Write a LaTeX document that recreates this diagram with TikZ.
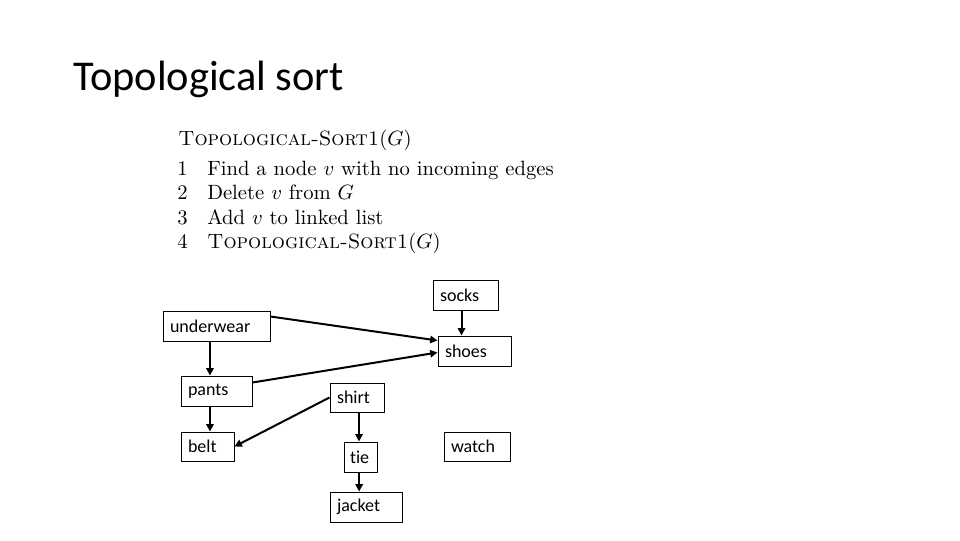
\documentclass[tikz,border=0pt]{standalone}
\usepackage{graphicx}
\usepackage{fontspec}
\newfontfamily\carlito[Ligatures=NoCommon]{Carlito}
\usetikzlibrary{arrows.meta,calc}
\newcommand{\algtext}[1]{\scalebox{1.55}{\fontsize{10}{12}\selectfont #1}}
\begin{document}
\begin{tikzpicture}[x=0.75pt,y=-0.75pt,
  box/.style={draw=black,line width=0.75pt,inner xsep=5.25pt,inner ysep=0pt,align=left,
    font=\carlito\fontsize{13.5}{15}\selectfont,minimum height=22.5pt},
  arr/.style={line width=1.5pt,-{Triangle[width=5.5pt,length=5.5pt]}},
  alg/.style={anchor=base west,inner sep=0pt}]
\useasboundingbox (0,0) rectangle (960,540);
\fill[white] (0,0) rectangle (960,540);
% title
\node[anchor=base west,inner sep=0pt,font=\carlito\fontsize{31.8}{36}\selectfont] (title) at (73,90) {Topological sort};
% algorithm
\node[alg] (a0) at (178,145) {\algtext{\textsc{Topological-Sort1}$(G)$}};
\node[alg] (n1) at (177,175) {\algtext{1}};
\node[alg] (l1) at (207,175) {\algtext{Find a node $v$ with no incoming edges}};
\node[alg] (n2) at (177,199.5) {\algtext{2}};
\node[alg] (l2) at (207,199.5) {\algtext{Delete $v$ from $G$}};
\node[alg] (n3) at (177,224) {\algtext{3}};
\node[alg] (l3) at (207,224) {\algtext{Add $v$ to linked list}};
\node[alg] (n4) at (177,248.5) {\algtext{4}};
\node[alg] (l4) at (207,248.5) {\algtext{\textsc{Topological-Sort1}$(G)$}};
% boxes
\node[box,text width=38.25pt] (socks) at (465.5,295) {socks};
\node[box,text width=69.75pt] (underwear) at (216.5,326) {underwear};
\node[box,text width=44.25pt] (shoes) at (474.5,351) {shoes};
\node[box,text width=42.75pt] (pants) at (216.5,391) {pants};
\node[box,text width=30pt,minimum height=21.75pt] (shirt) at (357,397.5) {shirt};
\node[box,text width=29.25pt,minimum height=21.75pt] (belt) at (207.5,446.5) {belt};
\node[box,text width=15.75pt,inner xsep=4.5pt] (tie) at (360.5,457) {tie};
\node[box,text width=43.5pt] (jacket) at (366,507) {jacket};
\node[box,text width=39pt,minimum height=21.75pt] (watch) at (477,446.5) {watch};
% arrows
\draw[arr] ($(underwear.north east)+(0,6)$) -- ($(shoes.north west)+(0,5)$);
\draw[arr] ($(pants.north east)+(0,7)$) -- ($(shoes.north west)+(0,17)$);
\draw[arr] ([xshift=-3pt]socks.south) -- ([xshift=-3pt]socks.south |- shoes.north);
\draw[arr] ([xshift=-4.9pt]underwear.south) -- ([xshift=-4.9pt]underwear.south |- pants.north);
\draw[arr] ([xshift=-4.9pt]pants.south) -- ([xshift=-4.9pt]pants.south |- belt.north);
\draw[arr] (shirt.west) -- (belt.east);
\draw[arr] ([xshift=1.5pt]shirt.south) -- ([xshift=1.5pt]shirt.south |- tie.north);
\draw[arr] ([xshift=-1pt]tie.south) -- ([xshift=-1pt]tie.south |- jacket.north);
\end{tikzpicture}
\end{document}
